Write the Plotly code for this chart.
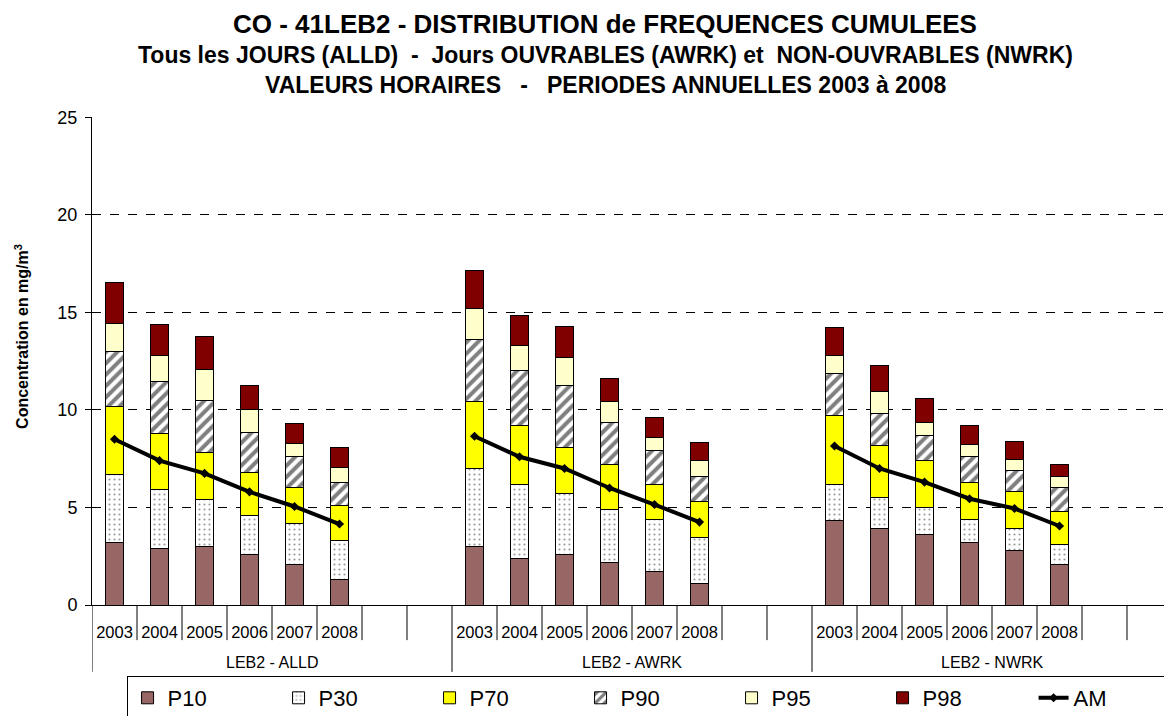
import plotly.graph_objects as go

# groupes et annees (2 emplacements vides par groupe, comme dans l'original)
groupes = ['LEB2 - ALLD', 'LEB2 - AWRK', 'LEB2 - NWRK']
annees = ['2003', '2004', '2005', '2006', '2007', '2008']
N_VIDES = 2

# valeurs cumulees (mg/m3) par groupe, 2003 -> 2008
p10 = [[3.2, 2.9, 3.0, 2.6, 2.1, 1.3],
       [3.0, 2.4, 2.6, 2.2, 1.7, 1.1],
       [4.35, 3.9, 3.6, 3.2, 2.8, 2.1]]
p30 = [[6.7, 5.9, 5.4, 4.6, 4.2, 3.3],
       [7.0, 6.2, 5.7, 4.9, 4.4, 3.45],
       [6.2, 5.5, 5.0, 4.4, 3.9, 3.1]]
p70 = [[10.2, 8.8, 7.8, 6.8, 6.0, 5.1],
       [10.45, 9.2, 8.1, 7.2, 6.2, 5.3],
       [9.7, 8.2, 7.4, 6.3, 5.8, 4.8]]
p90 = [[13.0, 11.45, 10.5, 8.85, 7.6, 6.3],
       [13.6, 12.0, 11.25, 9.35, 7.9, 6.6],
       [11.85, 9.8, 8.7, 7.6, 6.9, 6.0]]
p95 = [[14.45, 12.8, 12.05, 10.0, 8.3, 7.05],
       [15.2, 13.3, 12.7, 10.45, 8.6, 7.4],
       [12.8, 10.95, 9.35, 8.25, 7.45, 6.6]]
p98 = [[16.55, 14.4, 13.75, 11.25, 9.3, 8.1],
       [17.15, 14.85, 14.3, 11.6, 9.6, 8.35],
       [14.25, 12.3, 10.6, 9.2, 8.4, 7.2]]
am = [[8.5, 7.4, 6.75, 5.8, 5.05, 4.15],
      [8.65, 7.6, 7.0, 6.0, 5.15, 4.25],
      [8.15, 7.0, 6.3, 5.45, 4.95, 4.05]]

COULEURS = {
    'P10': '#996666',
    'P30': '#FFFFFF',
    'P70': '#FFFF00',
    'P90': '#FFFFFF',
    'P95': '#FFFFCC',
    'P98': '#800000',
}
POLICE = 'Liberation Sans, Arial, sans-serif'

PAR_GROUPE = len(annees) + N_VIDES
N_SLOTS = PAR_GROUPE * len(groupes)

# position de chaque barre sur l'axe (index d'emplacement)
x_pos = []
x_lab = []
for g in range(len(groupes)):
    for s, a in enumerate(annees):
        x_pos.append(g * PAR_GROUPE + s)
        x_lab.append(a)


def aplatir(series):
    out = []
    for s in series:
        out += list(s)
    return out


def ecarts(haut, bas):
    """hauteur de chaque segment empile = niveau - niveau precedent"""
    h = aplatir(haut)
    if bas is None:
        return h
    b = aplatir(bas)
    return [v - w for v, w in zip(h, b)]


niveaux = [('P10', p10, None), ('P30', p30, p10), ('P70', p70, p30),
           ('P90', p90, p70), ('P95', p95, p90), ('P98', p98, p95)]

fig = go.Figure()

for nom, haut, bas in niveaux:
    motif = None
    if nom == 'P30':
        motif = dict(shape='.', fgcolor='#333333', bgcolor='white', size=5, solidity=0.15)
    elif nom == 'P90':
        motif = dict(shape='/', fgcolor='black', bgcolor='white', size=8, solidity=0.5)
    fig.add_trace(go.Bar(
        x=x_pos,
        y=ecarts(haut, bas),
        customdata=aplatir(haut),
        name=nom,
        width=0.42,
        marker=dict(color=COULEURS[nom], line=dict(color='black', width=1),
                    pattern=motif),
        hovertemplate=nom + ': %{customdata:.2f}<extra></extra>'
    ))

# moyenne arithmetique : une ligne par groupe, une seule entree de legende
for g in range(len(groupes)):
    fig.add_trace(go.Scatter(
        x=x_pos[g * len(annees):(g + 1) * len(annees)],
        y=am[g],
        mode='lines+markers',
        name='AM',
        legendgroup='AM',
        showlegend=(g == 0),
        line=dict(color='black', width=4),
        marker=dict(symbol='diamond', size=7, color='black'),
        hovertemplate='AM: %{y:.2f}<extra></extra>'
    ))

# graduations de l'axe x : traits entre emplacements, separateurs de groupes plus longs
for i in range(N_SLOTS):
    b = i - 0.5
    long_trait = (i % PAR_GROUPE == 0)
    fig.add_shape(type='line', xref='x', yref='paper',
                  x0=b, x1=b, y0=0, y1=-0.137 if long_trait else -0.072,
                  line=dict(color='black', width=1))
for g, nom in enumerate(groupes):
    fig.add_annotation(text=nom, xref='x', yref='paper',
                       x=g * PAR_GROUPE + (PAR_GROUPE - 1) / 2, y=-0.117,
                       showarrow=False, yanchor='middle',
                       font=dict(size=16, family=POLICE, color='black'))

# titre sur trois lignes
titres = [('CO - 41LEB2 - DISTRIBUTION de FREQUENCES CUMULEES', 26, 1.190),
          ('Tous les JOURS (ALLD)  -  Jours OUVRABLES (AWRK) et  NON-OUVRABLES (NWRK)', 23, 1.127),
          ('VALEURS HORAIRES   -   PERIODES ANNUELLES 2003 à 2008', 23, 1.066)]
for txt, taille, yy in titres:
    fig.add_annotation(text='<b>' + txt.replace('  ', '&nbsp; ') + '</b>',
                       xref='paper', yref='paper', x=0.475, y=yy,
                       showarrow=False, xanchor='center', yanchor='middle',
                       font=dict(size=taille, family=POLICE, color='black'))

# titre de l'axe y
fig.add_annotation(text='<b>Concentration en mg/m<sup>3</sup></b>',
                   xref='paper', yref='paper', x=-0.065, y=0.551,
                   xanchor='center', yanchor='middle',
                   textangle=-90, showarrow=False,
                   font=dict(size=16, family=POLICE, color='black'))

# la page html ajoute 8 px de marge : on compense pour garder la zone de trace
# entre x=92..1172 et y=117..605 dans la fenetre
fig.update_layout(
    width=1172, height=716,
    barmode='stack',
    paper_bgcolor='white',
    plot_bgcolor='white',
    font=dict(family=POLICE, color='black'),
    margin=dict(l=84, r=8, t=109, b=119, autoexpand=False),
    xaxis=dict(
        range=[-0.5, N_SLOTS - 0.5],
        tickmode='array', tickvals=x_pos, ticktext=x_lab,
        ticks='', ticklabelstandoff=12,
        showline=True, linecolor='black', linewidth=1,
        tickfont=dict(size=16.5, family=POLICE),
        showgrid=False, zeroline=False, automargin=False
    ),
    yaxis=dict(
        range=[0, 25.02], tickvals=[0, 5, 10, 15, 20, 25],
        showline=True, linecolor='black', linewidth=1,
        ticks='outside', ticklen=6, tickcolor='black',
        tickfont=dict(size=18, family=POLICE),
        ticklabelstandoff=4,
        showgrid=True, gridcolor='black', gridwidth=1, griddash='dash',
        zeroline=False, automargin=False
    ),
    legend=dict(
        orientation='h',
        x=0.032, xanchor='left',
        y=-0.1455, yanchor='top',
        font=dict(size=22, family=POLICE),
        bordercolor='black', borderwidth=1,
        entrywidth=106,
        traceorder='normal'
    ),
)

fig.write_html('out.html')
